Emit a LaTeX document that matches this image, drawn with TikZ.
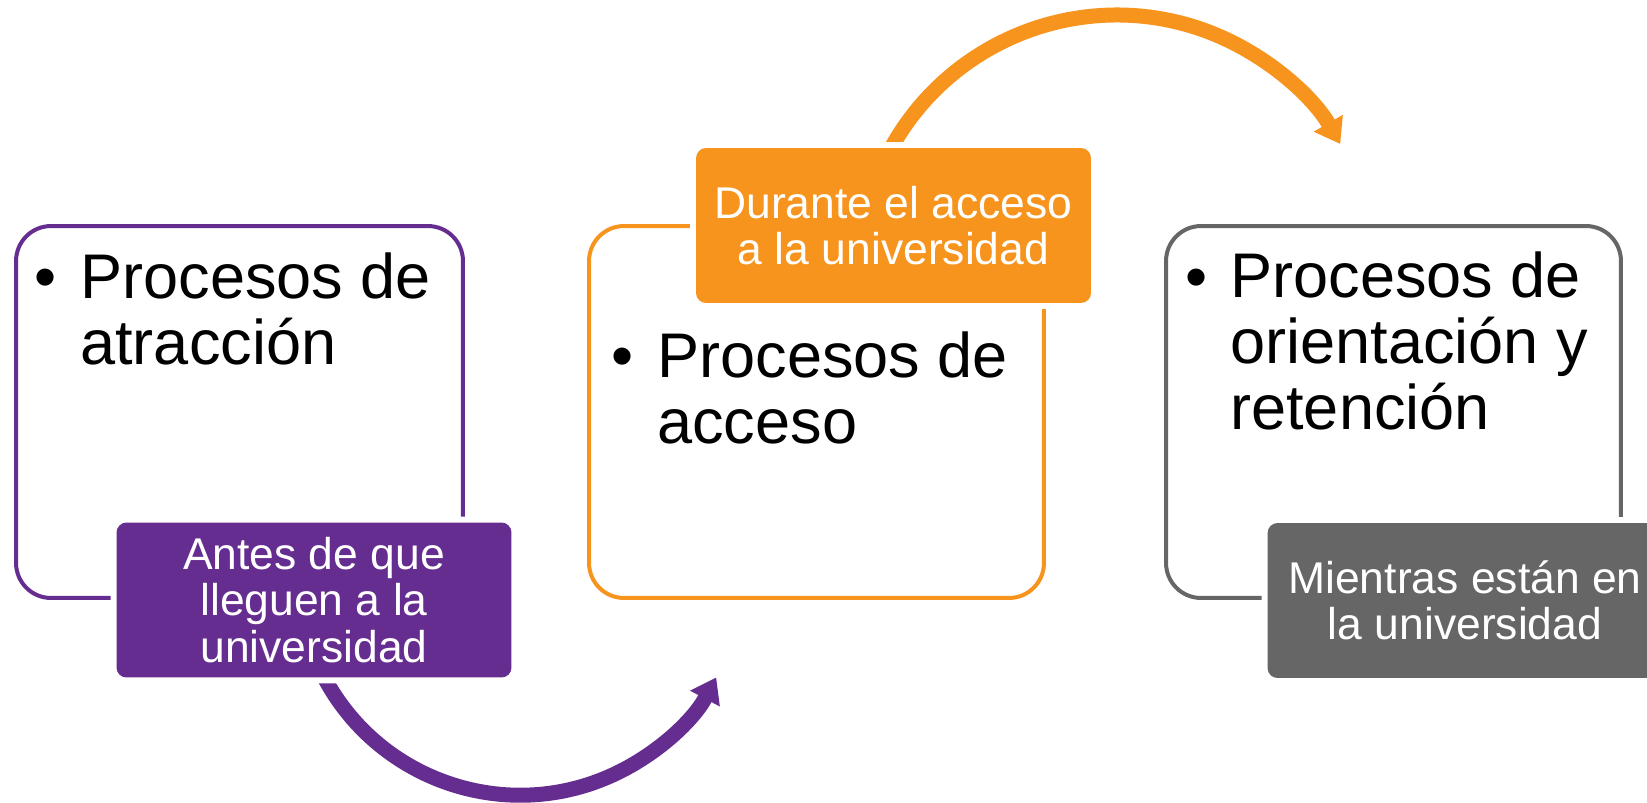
\documentclass[tikz,border=0pt]{standalone}
\usepackage{fontspec}
\setmainfont{Liberation Sans}
\usetikzlibrary{arrows.meta}
\definecolor{purp}{HTML}{662D91}
\definecolor{orng}{HTML}{F7941D}
\definecolor{gry}{HTML}{666666}
\begin{document}
\begin{tikzpicture}[x = 0.02cm, y = -0.02cm,
	box/.style = {draw, line width = 0.08cm, rounded corners = 0.7cm, minimum height = 7.44cm, inner sep = 0pt},
	tag/.style = {text = white, rounded corners = 0.2cm, minimum width = 7.9cm, minimum height = 3.1cm, inner sep = 0pt, align = center, font = \fontsize{25.3}{26.5}\selectfont, preaction = {draw = white, line width = 0.24cm}},
	item/.style = {anchor = base west, inner sep = 0pt, align = left, font = \fontsize{35.9}{37.3}\selectfont},
	dot/.style = {anchor = base west, inner sep = 0pt, font = \fontsize{35.9}{37.3}\selectfont},
	flow/.style = {line width = 0.3cm, -{Triangle[width = 0.64cm, length = 0.48cm]}}]
	\useasboundingbox (0, 0) rectangle (1647, 802);
	\clip (0, 0) rectangle (1647, 802);
	% Boxes
	\node[box, draw = purp, minimum width = 8.94cm] (b1) at (239.5, 412) {};
	\node[box, draw = orng, minimum width = 9.1cm] (b2) at (816.5, 412) {};
	\node[box, draw = gry, minimum width = 9.1cm] (b3) at (1393.5, 412) {};
	
	% Arrows
	\coordinate (s1) at (319, 667);
	\coordinate (s2) at (883, 164);
	\draw[flow, purp] (s1) arc[start angle = 155, end angle = 28, radius = 222];
	\draw[flow, orng] (s2) arc[start angle = -155, end angle = -30, radius = 258];
	
	% Labels
	\node[tag, fill = purp] (l1) at (314, 600) {Antes de que\\lleguen a la\\universidad};
	\node[tag, fill = orng] (l2) at (893.5, 225.5) {Durante el acceso\\a la universidad};
	\node[tag, fill = gry] (l3) at (1465, 600.5) {Mientras están en\\la universidad};
	
	% Bullet texts (placed by their last baseline)
	\node[item] (t1) at (80, 364) {Procesos de\\atracción};
	\node[item] (t2) at (657, 443) {Procesos de\\acceso};
	\node[item] (t3) at (1230, 429) {Procesos de\\orientación y\\retención};
	\node[dot] (d1) at (34, 298) {•};
	\node[dot] (d2) at (611, 377) {•};
	\node[dot] (d3) at (1185, 298) {•};
\end{tikzpicture}
\end{document}
